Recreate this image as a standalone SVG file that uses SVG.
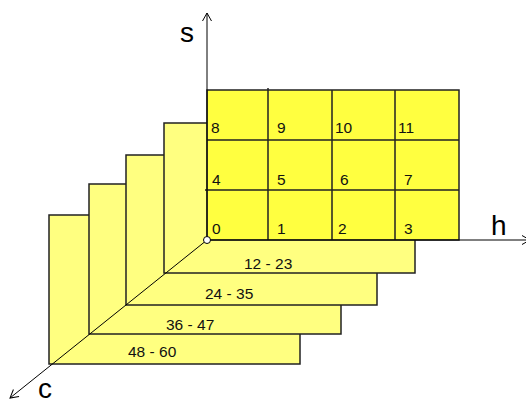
<svg xmlns="http://www.w3.org/2000/svg" width="526" height="405" viewBox="0 0 526 405">
<style>
.layer{fill:#FFFF80;stroke:#222;stroke-width:1.5}
.main{fill:#FFFF40;stroke:#222;stroke-width:1.5}
.grid{stroke:#222;stroke-width:1.5;fill:none}
.axis{stroke:#000;stroke-width:1;fill:none}
.num{font-family:"Liberation Sans",Arial,sans-serif;font-size:15.5px;fill:#111}
.lbl{font-family:"Liberation Sans",Arial,sans-serif;font-size:28px;fill:#000}
</style>
<defs>
<marker id="arr" markerUnits="userSpaceOnUse" markerWidth="20" markerHeight="20" viewBox="-10 -10 20 20" refX="0" refY="0" orient="auto" overflow="visible">
<path d="M-8,-4.5 L0,0 L-8,4.5" fill="none" stroke="#000" stroke-width="1"/>
</marker>
</defs>
<g id="layer-48-60">
<rect class="layer" x="49" y="215" width="251" height="149"/>
<text class="num" x="128" y="357">48 - 60</text>
</g>
<g id="layer-36-47">
<rect class="layer" x="89" y="184" width="252" height="150"/>
<text class="num" x="166" y="330">36 - 47</text>
</g>
<g id="layer-24-35">
<rect class="layer" x="126" y="155" width="251" height="150"/>
<text class="num" x="205" y="299">24 - 35</text>
</g>
<g id="layer-12-23">
<rect class="layer" x="164" y="123" width="251" height="150"/>
<text class="num" x="244" y="269">12 - 23</text>
</g>
<g id="layer-0-11">
<rect class="main" x="207" y="90" width="252" height="150"/>
<path class="grid" d="M207,140 H459 M205,190 H459 M268,88 V240 M332,90 V240 M395,90 V240"/>
<text class="num" x="211" y="133">8</text>
<text class="num" x="277" y="133">9</text>
<text class="num" x="335" y="133">10</text>
<text class="num" x="398" y="133">11</text>
<text class="num" x="212" y="185">4</text>
<text class="num" x="277" y="185">5</text>
<text class="num" x="340" y="185">6</text>
<text class="num" x="404" y="185">7</text>
<text class="num" x="212" y="234">0</text>
<text class="num" x="277" y="234">1</text>
<text class="num" x="338" y="234">2</text>
<text class="num" x="404" y="234">3</text>
</g>
<g id="axes">
<line class="axis" x1="207" y1="240" x2="207" y2="13" marker-end="url(#arr)"/>
<line class="axis" x1="207" y1="240" x2="530" y2="240" marker-end="url(#arr)"/>
<line class="axis" x1="207" y1="240" x2="10" y2="398" marker-end="url(#arr)"/>
<circle cx="207" cy="240" r="3.5" fill="#fff" stroke="#000" stroke-width="1"/>
</g>
<g id="axis-labels">
<text class="lbl" x="180" y="42">s</text>
<text class="lbl" x="491" y="235">h</text>
<text class="lbl" x="38" y="398">c</text>
</g>
</svg>
